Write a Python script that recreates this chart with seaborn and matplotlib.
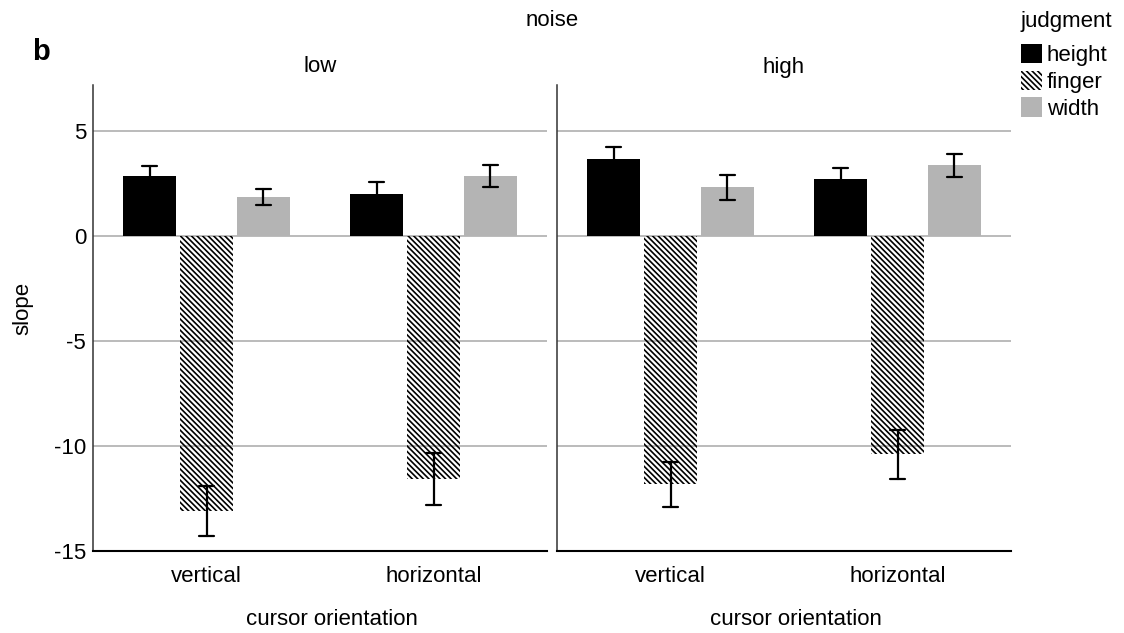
import matplotlib
matplotlib.use("Agg")
import matplotlib.pyplot as plt
from matplotlib.patches import Patch
import seaborn as sns
import pandas as pd

# valores (media e meia-barra de erro)
orientacao = ["vertical", "horizontal"]
julgamento = ["height", "finger", "width"]
ruido = ["low", "high"]

low_height = [2.86, 2.01]
low_height_err = [0.47, 0.55]
low_finger = [-13.10, -11.58]
low_finger_err = [1.19, 1.24]
low_width = [1.87, 2.87]
low_width_err = [0.38, 0.52]

high_height = [3.68, 2.70]
high_height_err = [0.56, 0.54]
high_finger = [-11.83, -10.40]
high_finger_err = [1.08, 1.18]
high_width = [2.33, 3.38]
high_width_err = [0.60, 0.55]

medias = {
    "low": {"height": (low_height, low_height_err),
            "finger": (low_finger, low_finger_err),
            "width": (low_width, low_width_err)},
    "high": {"height": (high_height, high_height_err),
             "finger": (high_finger, high_finger_err),
             "width": (high_width, high_width_err)},
}

# tabela longa: dois pontos por celula (media - erro, media + erro)
linhas = []
for n in ruido:
    for j in julgamento:
        m, e = medias[n][j]
        for i, o in enumerate(orientacao):
            linhas.append({"noise": n, "orientation": o, "judgment": j, "slope": m[i] - e[i]})
            linhas.append({"noise": n, "orientation": o, "judgment": j, "slope": m[i] + e[i]})
df = pd.DataFrame(linhas)

sns.set_style("white")
plt.rcParams["font.family"] = ["Liberation Sans", "DejaVu Sans"]
plt.rcParams["axes.unicode_minus"] = False
plt.rcParams["hatch.linewidth"] = 1.2
for k in ["text.color", "axes.labelcolor", "xtick.color", "ytick.color"]:
    plt.rcParams[k] = "black"

cores = {"height": "black", "finger": "white", "width": "#b4b4b4"}
hachura = "\\\\\\\\\\\\"
fs = 16

fig = plt.figure(figsize=(11.24, 6.33), dpi=100)
W, H = 1124, 633
ax1 = fig.add_axes([93 / W, 1 - 551 / H, 454 / W, 466 / H])
ax2 = fig.add_axes([557 / W, 1 - 551 / H, 454 / W, 466 / H])

for ax, n in zip([ax1, ax2], ruido):
    sns.barplot(data=df[df["noise"] == n], x="orientation", y="slope", hue="judgment",
                order=orientacao, hue_order=julgamento, palette=cores, saturation=1,
                width=0.75, gap=0.07, estimator="mean",
                errorbar=lambda v: (v.min(), v.max()),
                capsize=0.2, err_kws={"color": "black", "linewidth": 1.6},
                legend=False, ax=ax)
    for cont, j in zip(ax.containers, julgamento):
        for p in cont:
            p.set_linewidth(0)
            if j == "finger":
                p.set_facecolor("none")
                p.set_edgecolor("black")
                p.set_hatch(hachura)
    ax.set_ylim(-15, 7.2)
    ax.set_yticks([-15, -10, -5, 0, 5])
    ax.yaxis.grid(True, color="#a8a8a8", linewidth=1.1)
    ax.set_axisbelow(True)
    ax.tick_params(axis="both", length=0, labelsize=fs)
    ax.tick_params(axis="x", pad=11)
    ax.tick_params(axis="y", pad=5)
    for s in ["top", "right"]:
        ax.spines[s].set_visible(False)
    ax.spines["left"].set_color("#333333")
    ax.spines["left"].set_linewidth(1.1)
    ax.spines["bottom"].set_color("black")
    ax.spines["bottom"].set_linewidth(1.5)
    ax.set_ylabel("")
    ax.set_xlabel("cursor orientation", fontsize=fs)
    ax.xaxis.set_label_coords(0.526, -0.125)
    ax.set_title(n, fontsize=fs, pad=9)

ax2.set_yticklabels([])

fig.text(23 / W, 1 - 308 / H, "slope", rotation=90, ha="center", va="center", fontsize=fs)
fig.text(552 / W, 1 - 20 / H, "noise", ha="center", va="center", fontsize=fs)
fig.text(32 / W, 1 - 52 / H, "b", ha="left", va="center", fontsize=21, fontweight="bold")
fig.text(1020 / W, 1 - 22 / H, "judgment", ha="left", va="center", fontsize=fs)

alcas = [Patch(facecolor="black", edgecolor="black", linewidth=0),
         Patch(facecolor="none", edgecolor="black", linewidth=0, hatch=hachura),
         Patch(facecolor="#b4b4b4", edgecolor="#b4b4b4", linewidth=0)]
fig.legend(alcas, julgamento, loc="upper left",
           bbox_to_anchor=(1021 / W, 1 - 44 / H), frameon=False,
           handlelength=0.95, handleheight=0.95, handletextpad=0.2, labelspacing=0.2,
           borderpad=0, borderaxespad=0, fontsize=fs)

fig.savefig("out.png", dpi=100)
